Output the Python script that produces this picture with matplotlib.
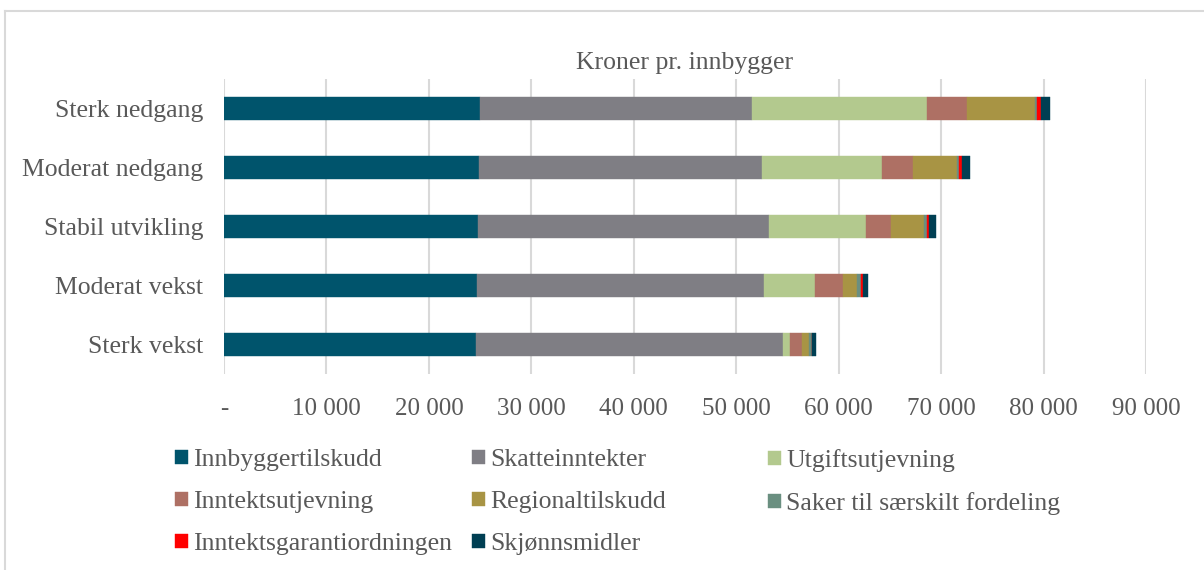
import numpy as np
import matplotlib.pyplot as plt
from matplotlib.lines import Line2D

# Scenarios (top to bottom in the chart)
scenarios = ["Sterk nedgang", "Moderat nedgang", "Stabil utvikling", "Moderat vekst", "Sterk vekst"]

# Kroner pr. innbygger per component
innbyggertilskudd = [25000, 24900, 24800, 24700, 24600]
skatteinntekter = [26560, 27640, 28360, 28030, 29990]
utgiftsutjevning = [17060, 11680, 9520, 4980, 620]
inntektsutjevning = [3910, 3070, 2460, 2670, 1170]
regionaltilskudd = [6600, 4260, 3160, 1370, 680]
saker_fordeling = [210, 230, 290, 420, 330]
inntektsgaranti = [380, 260, 220, 160, 30]
skjonnsmidler = [940, 780, 660, 530, 320]

series = [
    ("Innbyggertilskudd", innbyggertilskudd, "#00546C"),
    ("Skatteinntekter", skatteinntekter, "#7F7E84"),
    ("Utgiftsutjevning", utgiftsutjevning, "#B3C98E"),
    ("Inntektsutjevning", inntektsutjevning, "#AE7064"),
    ("Regionaltilskudd", regionaltilskudd, "#A89444"),
    ("Saker til særskilt fordeling", saker_fordeling, "#6A8F80"),
    ("Inntektsgarantiordningen", inntektsgaranti, "#FF0000"),
    ("Skjønnsmidler", skjonnsmidler, "#003F53"),
]

plt.rcParams['font.family'] = ['Liberation Serif', 'DejaVu Serif']
text_color = "#595959"
W, H = 1204, 570

fig = plt.figure(figsize=(W / 100, H / 100), dpi=100)
ax = fig.add_axes([224 / W, 1 - 374 / H, (1146 - 224) / W, (374 - 79) / H])

y = np.arange(len(scenarios))
left = np.zeros(len(scenarios))
bars = []
for name, vals, col in series:
    vals = np.array(vals, dtype=float)
    b = ax.barh(y, vals, left=left, height=0.4, color=col, edgecolor=col, linewidth=0.3, label=name, zorder=3)
    bars.append(b)
    left += vals

ax.set_ylim(len(scenarios) - 0.5, -0.5)
ax.set_xlim(0, 90000)
ax.set_yticks(y)
ax.set_yticklabels(scenarios, fontsize=18.5, color=text_color)
xt = np.arange(0, 90001, 10000)
ax.set_xticks(xt)
ax.set_xticklabels(["-"] + [f"{v:,}".replace(",", " ") for v in xt[1:]], fontsize=18, color=text_color)
ax.tick_params(axis='x', length=0, pad=17)
ax.tick_params(axis='y', length=0, pad=15)
ax.grid(axis='x', color="#D9D9D9", linewidth=1.5, zorder=0)
for s in ax.spines.values():
    s.set_visible(False)

ax.set_title("Kroner pr. innbygger", fontsize=18.5, color=text_color, pad=7)

# legend laid out row by row, one legend per column
col_x = [175, 472, 768]
for c in range(3):
    idx = list(range(c, len(series), 3))
    leg = fig.legend([bars[i] for i in idx], [series[i][0] for i in idx],
                     loc="upper left", bbox_to_anchor=(col_x[c] / W, 1 - 449 / H),
                     fontsize=18.5, frameon=False, borderpad=0, borderaxespad=0,
                     handlelength=0.5, handleheight=0.5, handletextpad=0.22,
                     labelspacing=0.78)
    for t in leg.get_texts():
        t.set_color(text_color)

# chart border (only left and top visible in the crop)
fig.add_artist(Line2D([5 / W, 5 / W], [0, 1 - 11 / H], color="#D9D9D9", linewidth=1.5, transform=fig.transFigure))
fig.add_artist(Line2D([5 / W, 1], [1 - 11 / H, 1 - 11 / H], color="#D9D9D9", linewidth=1.5, transform=fig.transFigure))

fig.savefig("out.png", dpi=100)
